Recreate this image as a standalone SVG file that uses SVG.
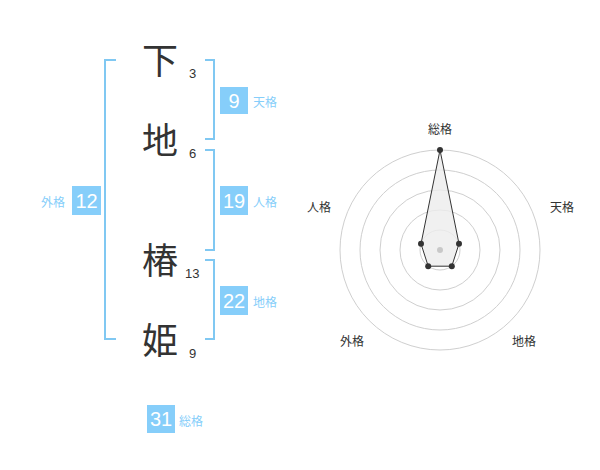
<svg xmlns="http://www.w3.org/2000/svg" width="600" height="470" viewBox="0 0 600 470">
<style>
.k{font-family:"Noto Sans CJK JP","Noto Sans CJK SC",sans-serif;font-size:36px;fill:#333;text-anchor:middle}
.n{font-family:"Liberation Sans",Arial,sans-serif;font-size:13px;fill:#333}
.br{fill:none;stroke:#80c8f2;stroke-width:2}
.bx{fill:#86cefa}
.bt{font-family:"Liberation Sans",Arial,sans-serif;font-size:20px;fill:#fff;text-anchor:middle}
.lb{font-family:"Noto Sans CJK JP",sans-serif;font-size:12px;fill:#86cefa}
.ring{fill:none;stroke:#cfcfcf;stroke-width:1}
.rl{font-family:"Noto Sans CJK JP",sans-serif;font-size:12px;fill:#333;text-anchor:middle}
</style>
<rect width="600" height="470" fill="#fff"/>
<g id="chars">
<text class="k" x="160" y="74">下</text>
<text class="k" x="160" y="154">地</text>
<text class="k" x="160" y="274">椿</text>
<text class="k" x="160" y="354">姫</text>
<text class="n" x="189" y="78">3</text>
<text class="n" x="189" y="158">6</text>
<text class="n" x="185" y="278">13</text>
<text class="n" x="189" y="358">9</text>
</g>
<g id="connectors">
<path class="br" d="M116,60 H105 V339 H116"/>
<path class="br" d="M205,60 H214 V139 H205"/>
<path class="br" d="M205,150 H214 V250 H205"/>
<path class="br" d="M205,260 H214 V339 H205"/>
</g>
<g id="tenkaku">
<rect class="bx" x="220" y="87" width="28" height="27"/>
<text class="bt" x="234" y="108">9</text>
<text class="lb" x="253" y="107">天格</text>
</g>
<g id="jinkaku">
<rect class="bx" x="220" y="186" width="28" height="29"/>
<text class="bt" x="234" y="208">19</text>
<text class="lb" x="253" y="207">人格</text>
</g>
<g id="chikaku">
<rect class="bx" x="220" y="286" width="28" height="29"/>
<text class="bt" x="234" y="308">22</text>
<text class="lb" x="253" y="307">地格</text>
</g>
<g id="gaikaku">
<rect class="bx" x="72" y="186" width="29" height="29"/>
<text class="bt" x="86.5" y="208">12</text>
<text class="lb" x="41" y="207">外格</text>
</g>
<g id="soukaku">
<rect class="bx" x="147" y="405" width="28" height="28"/>
<text class="bt" x="161" y="426">31</text>
<text class="lb" x="179" y="426">総格</text>
</g>
<g id="radar">
<circle class="ring" cx="440" cy="250" r="20"/>
<circle class="ring" cx="440" cy="250" r="40"/>
<circle class="ring" cx="440" cy="250" r="60"/>
<circle class="ring" cx="440" cy="250" r="80"/>
<circle class="ring" cx="440" cy="250" r="100"/>
<polygon points="440,150 459,243.8 451.8,266.2 428.2,266.2 421,243.8" fill="#ececec" fill-opacity="0.8" stroke="#333" stroke-width="1"/>
<circle cx="440" cy="250" r="3" fill="#c8c8c8"/>
<g fill="#333">
<circle cx="440" cy="150" r="3"/>
<circle cx="459" cy="243.8" r="3"/>
<circle cx="451.8" cy="266.2" r="3"/>
<circle cx="428.2" cy="266.2" r="3"/>
<circle cx="421" cy="243.8" r="3"/>
</g>
<text class="rl" x="440" y="134">総格</text>
<text class="rl" x="562" y="212">天格</text>
<text class="rl" x="524" y="346">地格</text>
<text class="rl" x="352" y="346">外格</text>
<text class="rl" x="319" y="212">人格</text>
</g>
</svg>
